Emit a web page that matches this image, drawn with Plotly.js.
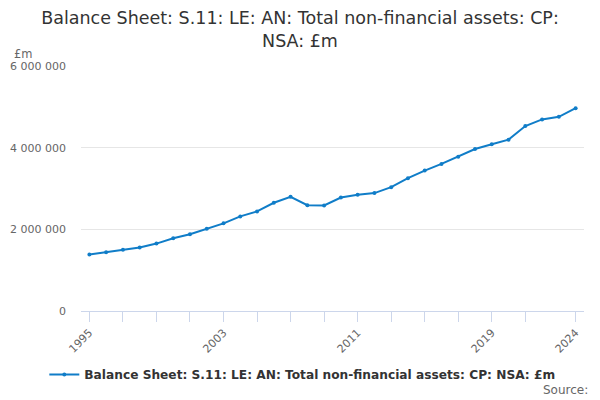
<!DOCTYPE html>
<html>
<head>
<meta charset="utf-8">
<script src="https://cdn.plot.ly/plotly-3.0.1.min.js"></script>
<style>html,body{margin:0;padding:0;background:#fff;}#chart{width:600px;height:400px;}</style>
</head>
<body>
<div id="chart"></div>
<script>
var years = [1995,1996,1997,1998,1999,2000,2001,2002,2003,2004,2005,2006,2007,2008,2009,2010,2011,2012,2013,2014,2015,2016,2017,2018,2019,2020,2021,2022,2023,2024];
var values = [1383000,1439000,1497000,1553000,1651000,1780000,1878000,2017000,2146000,2317000,2439000,2651000,2797000,2590000,2585000,2780000,2846000,2887000,3033000,3253000,3439000,3602000,3780000,3968000,4082000,4195000,4529000,4692000,4756000,4968000];
var tickYears = [1995,1997,1999,2001,2003,2005,2007,2009,2011,2013,2015,2017,2019,2021,2024];
var tickLabels = ['1995','','','','2003','','','','2011','','','','2019','','2024'];
var yTicks = [0,2000000,4000000,6000000];
var seriesName = 'Balance Sheet: S.11: LE: AN: Total non-financial assets: CP: NSA: £m';
var titleText = 'Balance Sheet: S.11: LE: AN: Total non-financial assets: CP:<br>NSA: £m';

var trace = {
  x: years, y: values, name: seriesName, type: 'scatter', mode: 'lines+markers',
  line: {color: '#107dc8', width: 2},
  marker: {color: '#107dc8', size: 4},
  showlegend: true
};
var layout = {
  width: 600, height: 400,
  font: {family: 'DejaVu Sans, sans-serif', color: '#666666'},
  separators: '. ',
  margin: {l: 81, r: 16, t: 66, b: 88},
  paper_bgcolor: '#ffffff', plot_bgcolor: '#ffffff',
  title: {text: titleText, font: {family: 'DejaVu Sans, sans-serif', size: 17.5, color: '#333333'}, x: 0.5, xanchor: 'center', y: 0.94, yanchor: 'top'},
  xaxis: {
    range: [1994.5, 2024.5], tickmode: 'array', tickvals: tickYears, ticktext: tickLabels,
    tickangle: -45, ticks: 'outside', ticklen: 10, tickcolor: '#ccd6eb', tickwidth: 1,
    showline: true, linecolor: '#ccd6eb', linewidth: 1, showgrid: false, zeroline: false,
    tickfont: {size: 11, color: '#666666'}, fixedrange: true
  },
  yaxis: {
    range: [0, 6000000], tickmode: 'array', tickvals: yTicks, tickformat: ',d',
    showgrid: true, gridcolor: '#e6e6e6', gridwidth: 1, zeroline: false, showline: false,
    ticks: '', tickfont: {size: 11, color: '#666666'}, ticklabelstandoff: 14, fixedrange: true
  },
  legend: {orientation: 'h', x: 0.44, xanchor: 'center', y: -0.254, yanchor: 'middle',
    font: {size: 12.2, color: '#333333', weight: 'bold'}},
  annotations: [
    {text: '£m', xref: 'paper', yref: 'paper', x: -0.137, y: 1.05, xanchor: 'left', yanchor: 'middle', showarrow: false, font: {size: 11.5, color: '#666666'}},
    {text: 'Source:', xref: 'paper', yref: 'paper', x: 1.012, y: -0.323, xanchor: 'right', yanchor: 'middle', showarrow: false, font: {size: 12, color: '#666666'}}
  ]
};
Plotly.newPlot('chart', [trace], layout, {displayModeBar: false, staticPlot: true});
</script>
</body>
</html>
